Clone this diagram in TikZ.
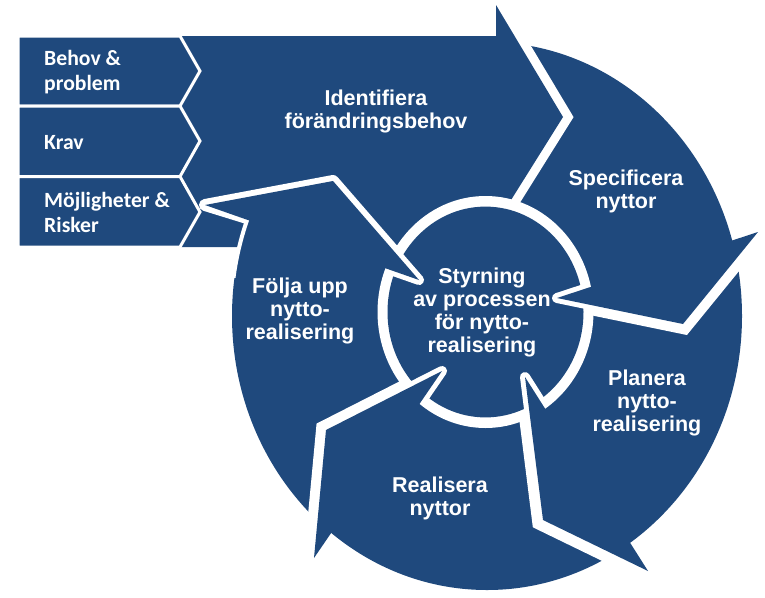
\documentclass[tikz,border=0pt]{standalone}
\usepackage{fontspec}
\setmainfont{Liberation Sans}
\newfontfamily\calfont{Carlito}
\usetikzlibrary{calc}
\definecolor{dblue}{RGB}{31,73,125}
\begin{document}
\begin{tikzpicture}[x=1pt,y=-1pt,
  cyctext/.style={text=white, font=\fontsize{21.5}{23}\selectfont\bfseries, align=center, anchor=base, inner sep=0pt},
  boxtext/.style={text=white, font=\calfont\fontsize{21.7}{25.5}\selectfont\bfseries, align=left, anchor=base west, inner sep=0pt},
  boxshape/.style={fill=dblue, draw=white, line width=3pt, line join=miter},
  thickhalo/.style={draw=white, line width=#1, line join=miter},
  thinhalo/.style={draw=white, line width=10pt, line join=round},
]
\useasboundingbox (0,0) rectangle (765,597);
% head vertices
\coordinate (IB1) at (496,5);   \coordinate (IT) at (563,117);  \coordinate (IB2) at (496,224);
\coordinate (SB1) at (758,232); \coordinate (ST) at (683,324);  \coordinate (SB2) at (557,298);
\coordinate (PB1) at (648,571); \coordinate (PT) at (543,520);  \coordinate (PB2) at (525,377);
\coordinate (RB1) at (314,558); \coordinate (RT) at (326,430);  \coordinate (RB2) at (442,371);
\coordinate (FB1) at (205,205); \coordinate (FT) at (333,181);  \coordinate (FB2) at (419,280);
\coordinate (FQ) at (247,218);
% cycle ring
\fill[dblue] (487,316) ellipse [x radius=255, y radius=274];
% Identifiera arrow
\draw[thickhalo=18pt] (IB1) -- (IT) -- (IB2);
\fill[dblue] (18,36) -- (496,36) -- (IB1) -- (IT) -- (IB2) -- (496,247) -- (18,247) -- cycle;
% input boxes
\path[boxshape] (18,36) -- (180,36) -- (200,71) -- (180,106) -- (18,106) -- cycle;
\path[boxshape] (18,106) -- (180,106) -- (200,141) -- (180,176.5) -- (18,176.5) -- cycle;
\path[boxshape] (18,176.5) -- (180,176.5) -- (200,212) -- (180,247) -- (18,247) -- cycle;
% outer edge of Folja upp over the rectangle
\draw[white, line width=4pt] plot[domain=188:202, samples=20] ({487+256*cos(\x)}, {316+275*sin(\x)});
% centre disk
\fill[white] (485.5,312) ellipse [x radius=108, y radius=116];
\fill[dblue] (485.5,312) ellipse [x radius=98, y radius=105.4];
% heads
\draw[thickhalo=20pt] (SB1) -- (ST) -- ($(ST)!0.755!(SB2)$);
\draw[thinhalo] (ST) -- (SB2) -- ($(SB2)!0.145!(SB1)$);
\fill[dblue] (SB1) -- (ST) -- (SB2) -- cycle;
\draw[thickhalo=22pt] (PB1) -- (PT) -- ($(PT)!0.755!(PB2)$);
\draw[thinhalo] (PT) -- (PB2) -- ($(PB2)!0.14!(PB1)$);
\fill[dblue] (PB1) -- (PT) -- (PB2) -- cycle;
\draw[thickhalo=20pt] (RB1) -- (RT) -- ($(RT)!0.72!(RB2)$);
\draw[thinhalo] (RT) -- (RB2) -- ($(RB2)!0.153!(RB1)$);
\fill[dblue] (RB1) -- (RT) -- (RB2) -- cycle;
\draw[white, line width=12pt, line join=round] (FQ) -- (FB1) -- (FT) -- ($(FT)!0.75!(FB2)$);
\draw[thinhalo] ($(FT)!0.6!(FB2)$) -- (FB2) -- ($(FB2)!0.135!(FB1)$);
\fill[dblue] (FB1) -- (FT) -- (FB2) -- cycle;
% texts (anchor = baseline of the last line)
\node[boxtext] (behov) at (44,90.5) {Behov \&\\problem};
\node[boxtext] (krav) at (44,149) {Krav};
\node[boxtext] (mojl) at (44,232.5) {Möjligheter \&\\Risker};
\node[cyctext] (ident) at (376,128) {Identifiera\\förändringsbehov};
\node[cyctext] (spec) at (626,208) {Specificera\\nyttor};
\node[cyctext] (plan) at (647,431) {Planera\\nytto-\\realisering};
\node[cyctext] (real) at (440,515) {Realisera\\nyttor};
\node[cyctext] (folj) at (300,339) {Följa upp\\nytto-\\realisering};
\node[cyctext] (styr) at (482,352) {Styrning\\av processen\\för nytto-\\realisering};
\end{tikzpicture}
\end{document}
